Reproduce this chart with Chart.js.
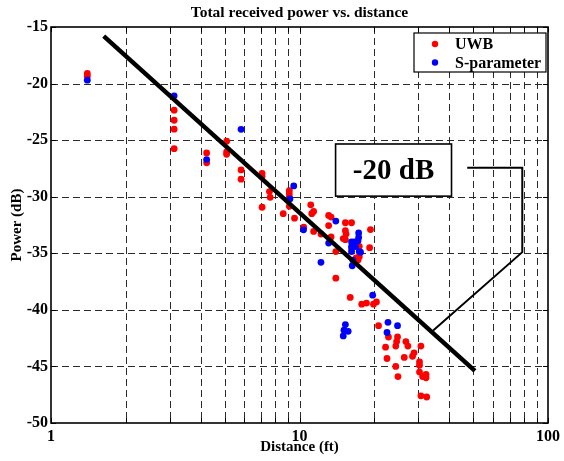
<!DOCTYPE html>
<html><head><meta charset="utf-8">
<script src="https://cdn.jsdelivr.net/npm/chart.js@4.4.1/dist/chart.umd.min.js"></script>
<style>html,body{margin:0;padding:0;background:#fff;overflow:hidden}</style>
</head><body>
<canvas id="c" width="564" height="461"></canvas>
<script>
const chartTitle = 'Total received power vs. distance';
const xAxisTitle = 'Distance (ft)';
const yAxisTitle = 'Power (dB)';
const seriesNames = ['UWB', 'S-parameter'];

const uwbDistance = [1.40,1.40,3.13,3.13,3.13,3.13,4.23,4.23,5.09,5.09,5.09,5.82,5.82,7.07,7.07,7.57,7.62,7.07,8.6,9.1,9.1,9.1,9.1,9.55,10.4,11.1,11.4,11.2,11.4,12.2,13.1,13.4,13.1,13.4,14.0,14.0,15.3,16.2,15.3,15.4,15.0,15.3,16.9,17.2,17.4,19.3,19.15,16.2,17.4,16.0,17.8,18.6,19.85,20.4,20.8,22.8,24.8,24.6,24.4,22.2,26.8,27.3,30.8,28.9,28.5,26.4,22.5,30.4,30.4,24.4,30.4,31.3,32.3,32.3,24.9,30.8,32.5];
const uwbPower = [-19.1,-19.35,-22.35,-23.24,-24.03,-25.75,-26.13,-27.0,-25.1,-26.04,-26.25,-27.63,-28.45,-27.93,-28.2,-29.55,-30.05,-30.93,-31.5,-29.46,-29.75,-30.05,-30.85,-31.9,-32.7,-30.72,-31.3,-31.5,-33.07,-33.3,-31.65,-31.8,-32.55,-33.55,-34.85,-37.2,-32.3,-32.3,-33.0,-33.3,-33.7,-33.8,-35.4,-35.6,-35.3,-32.9,-34.5,-34.6,-34.4,-38.9,-39.5,-39.4,-39.5,-39.3,-41.4,-42.4,-42.4,-42.8,-43.2,-43.3,-42.8,-43.2,-43.2,-43.8,-44.1,-44.2,-44.3,-44.6,-44.9,-45.0,-45.5,-45.9,-45.7,-46.0,-45.9,-47.6,-47.7];

const sparDistance = [1.40,3.13,4.23,5.82,9.48,9.15,10.38,14.0,13.1,12.2,17.3,17.3,17.2,16.2,16.6,16.2,16.8,17.4,16.2,16.4,16.3,17.6,19.7,15.3,15.1,15.7,15.0,22.7,24.8,22.5];
const sparPower = [-19.7,-21.08,-26.72,-24.04,-29.05,-30.2,-32.93,-32.15,-34.1,-35.8,-33.2,-33.6,-33.9,-34.0,-34.0,-34.4,-34.4,-34.85,-34.85,-35.6,-36.1,-34.9,-38.7,-41.3,-41.8,-41.9,-42.3,-41.1,-41.4,-42.0];

const fitDistance = [1.63, 50.8];
const fitPower = [-15.8, -45.4];

const xTickValues = [1,2,3,4,5,6,7,8,9,10,20,30,40,50,60,70,80,90,100];
const xTickLabels = {1:'1', 10:'10', 100:'100'};
const yTickValues = [-50,-45,-40,-35,-30,-25,-20,-15];

const annotationText = '-20 dB';
const annotationBox = {x0: 13.97, x1: 40.9, y0: -25.34, y1: -29.95};
const annotationLeaderX = [47.3, 78.8, 78.8, 34.5];
const annotationLeaderY = [-27.43, -27.43, -34.9, -41.83];

const FONT = '"Liberation Serif", "Times New Roman", serif';

const toXY = (xs, ys) => xs.map((v, i) => ({x: v, y: ys[i]}));

const framePlugin = {
  id: 'frame',
  beforeDatasetsDraw(chart) {
    const {ctx, chartArea: a, scales: {x, y}} = chart;
    ctx.save();
    ctx.strokeStyle = '#2a2a2a';
    ctx.lineWidth = 1;
    ctx.setLineDash([7, 4]);
    xTickValues.forEach(v => {
      if (v <= 1 || v >= 100) return;
      const p = Math.round(x.getPixelForValue(v)) + 0.5;
      ctx.beginPath(); ctx.moveTo(p, a.top); ctx.lineTo(p, a.bottom); ctx.stroke();
    });
    yTickValues.forEach(v => {
      if (v <= -50 || v >= -15) return;
      const p = Math.round(y.getPixelForValue(v)) + 0.5;
      ctx.beginPath(); ctx.moveTo(a.left, p); ctx.lineTo(a.right, p); ctx.stroke();
    });
    ctx.restore();
  },
  afterDatasetsDraw(chart) {
    const {ctx, scales: {x, y}} = chart;
    ctx.save();
    const bx0 = x.getPixelForValue(annotationBox.x0), bx1 = x.getPixelForValue(annotationBox.x1);
    const by0 = y.getPixelForValue(annotationBox.y0), by1 = y.getPixelForValue(annotationBox.y1);
    ctx.fillStyle = '#fff';
    ctx.fillRect(bx0, by0, bx1 - bx0, by1 - by0);
    ctx.strokeStyle = '#000'; ctx.lineWidth = 1.6; ctx.setLineDash([]);
    ctx.strokeRect(bx0, by0, bx1 - bx0, by1 - by0);
    ctx.fillStyle = '#000';
    ctx.font = 'bold 29px ' + FONT;
    ctx.textAlign = 'center'; ctx.textBaseline = 'middle';
    ctx.fillText(annotationText, (bx0 + bx1) / 2, (by0 + by1) / 2 + 1);
    ctx.lineWidth = 2;
    ctx.beginPath();
    annotationLeaderX.forEach((v, i) => {
      const px = x.getPixelForValue(v), py = y.getPixelForValue(annotationLeaderY[i]);
      if (i === 0) ctx.moveTo(px, py); else ctx.lineTo(px, py);
    });
    ctx.stroke();
    ctx.restore();
  },
  afterDraw(chart) {
    const {ctx, chartArea: a, scales: {x, y}} = chart;
    ctx.save();
    ctx.setLineDash([]);
    ctx.strokeStyle = '#000';
    ctx.lineWidth = 1;
    xTickValues.forEach(v => {
      const p = Math.round(x.getPixelForValue(v)) + 0.5;
      ctx.beginPath(); ctx.moveTo(p, a.bottom); ctx.lineTo(p, a.bottom - 5);
      ctx.moveTo(p, a.top); ctx.lineTo(p, a.top + 5); ctx.stroke();
    });
    yTickValues.forEach(v => {
      const p = Math.round(y.getPixelForValue(v)) + 0.5;
      ctx.beginPath(); ctx.moveTo(a.left, p); ctx.lineTo(a.left + 5, p);
      ctx.moveTo(a.right, p); ctx.lineTo(a.right - 5, p); ctx.stroke();
    });
    ctx.lineWidth = 1.6;
    ctx.strokeRect(a.left, a.top, a.right - a.left, a.bottom - a.top);
    ctx.fillStyle = '#000';
    ctx.font = 'bold 15.5px ' + FONT;
    ctx.textAlign = 'center'; ctx.textBaseline = 'middle';
    ctx.fillText(chartTitle, (a.left + a.right) / 2, 13);
    const lx = a.right - 134, ly = a.top + 6, lw = 132, lh = 39;
    ctx.fillStyle = '#fff';
    ctx.fillRect(lx, ly, lw, lh);
    ctx.lineWidth = 1.2;
    ctx.strokeRect(lx, ly, lw, lh);
    const colors = ['#ff0000', '#0000ff'];
    ctx.font = 'bold 16px ' + FONT;
    ctx.textAlign = 'left';
    seriesNames.forEach((name, i) => {
      const cy = ly + 11 + i * 18.5;
      ctx.fillStyle = colors[i];
      ctx.beginPath(); ctx.arc(lx + 21, cy, 3.2, 0, Math.PI * 2); ctx.fill();
      ctx.fillStyle = '#000';
      ctx.fillText(name, lx + 41, cy + 1);
    });
    ctx.restore();
  }
};

new Chart(document.getElementById('c'), {
  data: {
    datasets: [
      {type: 'line', label: 'fit', data: toXY(fitDistance, fitPower), borderColor: '#000', borderWidth: 4.5, pointRadius: 0, fill: false, order: 0, borderCapStyle: 'butt'},
      {type: 'scatter', label: seriesNames[1], data: toXY(sparDistance, sparPower), backgroundColor: '#0000ff', borderColor: '#0000ff', pointRadius: 3.4, borderWidth: 0, order: 1},
      {type: 'scatter', label: seriesNames[0], data: toXY(uwbDistance, uwbPower), backgroundColor: '#ff0000', borderColor: '#ff0000', pointRadius: 3.4, borderWidth: 0, order: 2}
    ]
  },
  options: {
    responsive: false,
    devicePixelRatio: 1,
    animation: false,
    layout: {padding: {top: 27, right: 16, left: 0, bottom: 0}},
    plugins: {legend: {display: false}, tooltip: {enabled: false}, title: {display: false}},
    scales: {
      x: {
        type: 'logarithmic', min: 1, max: 100,
        afterBuildTicks: s => { s.ticks = xTickValues.map(v => ({value: v})); },
        afterFit: s => { s.height = 38; },
        grid: {display: false, drawTicks: false},
        border: {display: false},
        ticks: {autoSkip: false, maxRotation: 0, padding: 4, color: '#000', font: {family: FONT, size: 16, weight: 'bold'},
          callback: v => xTickLabels[v] !== undefined ? xTickLabels[v] : ''},
        title: {display: true, text: xAxisTitle, color: '#000', font: {family: FONT, size: 15, weight: 'bold'}, padding: {top: 0, bottom: 5}}
      },
      y: {
        type: 'linear', min: -50, max: -15,
        afterBuildTicks: s => { s.ticks = yTickValues.map(v => ({value: v})); },
        afterFit: s => { s.width = 51; },
        grid: {display: false, drawTicks: false},
        border: {display: false},
        ticks: {autoSkip: false, padding: 3, color: '#000', font: {family: FONT, size: 16, weight: 'bold'}},
        title: {display: true, text: yAxisTitle, color: '#000', font: {family: FONT, size: 15, weight: 'bold'}, padding: {top: 8, bottom: 0}}
      }
    }
  },
  plugins: [framePlugin]
});
</script>
</body></html>
